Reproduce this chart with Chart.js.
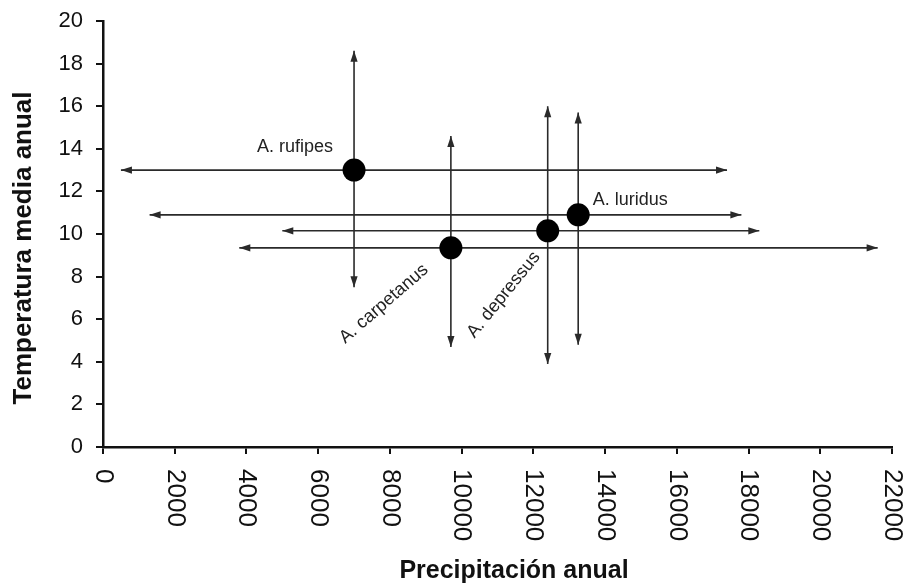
<!DOCTYPE html>
<html>
<head>
<meta charset="utf-8">
<script src="https://cdn.jsdelivr.net/npm/chart.js@4.4.1/dist/chart.umd.min.js"></script>
<style>
  html, body { margin: 0; padding: 0; background: #fff; }
  #wrap { width: 914px; height: 587px; position: relative; }
</style>
</head>
<body>
<div id="wrap"><canvas id="chart"></canvas></div>
<script>
const species = ["A. rufipes", "A. luridus", "A. depressus", "A. carpetanus"];
const precip = [7000, 13250, 12400, 9700];
const temp = [13.0, 10.9, 10.15, 9.35];
const precipMin = [500, 1300, 5000, 3800];
const precipMax = [17400, 17800, 18300, 21600];
const tempMin = [7.5, 4.8, 3.9, 4.7];
const tempMax = [18.6, 15.7, 16.0, 14.6];
const xTicks = [0, 2000, 4000, 6000, 8000, 10000, 12000, 14000, 16000, 18000, 20000, 22000];

const ink = "#111";
const lineInk = "#2a2a2a";

// label placement relative to each point (pixels), and rotation in degrees
const labelStyle = [
  { dx: -59, dy: -23, rot: 0 },
  { dx: 52, dy: -15, rot: 0 },
  { dx: -44, dy: 64, rot: -51 },
  { dx: -67, dy: 56, rot: -41 },
];

const datasets = [];
species.forEach((name, i) => {
  datasets.push({
    data: [{ x: precipMin[i], y: temp[i] }, { x: precipMax[i], y: temp[i] }],
    borderColor: lineInk, borderWidth: 1.6, pointRadius: 0, showLine: true, order: 2,
  });
  datasets.push({
    data: [{ x: precip[i], y: tempMin[i] }, { x: precip[i], y: tempMax[i] }],
    borderColor: lineInk, borderWidth: 1.6, pointRadius: 0, showLine: true, order: 2,
  });
});
datasets.push({
  data: species.map((s, i) => ({ x: precip[i], y: temp[i] })),
  backgroundColor: "#000", borderColor: "#000", pointRadius: 11.5, borderWidth: 0, order: 1,
});

function arrowHead(ctx, x, y, dirX, dirY) {
  const len = 11, half = 3.6;
  const px = -dirY, py = dirX;
  ctx.beginPath();
  ctx.moveTo(x, y);
  ctx.lineTo(x - dirX * len + px * half, y - dirY * len + py * half);
  ctx.lineTo(x - dirX * len - px * half, y - dirY * len - py * half);
  ctx.closePath();
  ctx.fill();
}

const extras = {
  id: "extras",
  afterDatasetsDraw(chart) {
    const { ctx, scales: { x, y } } = chart;
    ctx.save();
    ctx.fillStyle = lineInk;
    species.forEach((name, i) => {
      const py = y.getPixelForValue(temp[i]);
      const px = x.getPixelForValue(precip[i]);
      arrowHead(ctx, x.getPixelForValue(precipMin[i]), py, -1, 0);
      arrowHead(ctx, x.getPixelForValue(precipMax[i]), py, 1, 0);
      arrowHead(ctx, px, y.getPixelForValue(tempMax[i]), 0, -1);
      arrowHead(ctx, px, y.getPixelForValue(tempMin[i]), 0, 1);
    });
    // species labels
    ctx.fillStyle = "#222";
    ctx.font = "18px 'Liberation Sans', Arial, sans-serif";
    ctx.textAlign = "center";
    ctx.textBaseline = "middle";
    species.forEach((name, i) => {
      const st = labelStyle[i];
      ctx.save();
      ctx.translate(x.getPixelForValue(precip[i]) + st.dx, y.getPixelForValue(temp[i]) + st.dy);
      ctx.rotate(st.rot * Math.PI / 180);
      ctx.fillText(name, 0, 0);
      ctx.restore();
    });
    // x tick labels, rotated clockwise
    ctx.fillStyle = ink;
    ctx.font = "26px 'Liberation Sans', Arial, sans-serif";
    ctx.textAlign = "left";
    xTicks.forEach(v => {
      ctx.save();
      ctx.translate(x.getPixelForValue(v), y.bottom + 22);
      ctx.rotate(Math.PI / 2);
      ctx.fillText(String(v), 0, 0);
      ctx.restore();
    });
    // axis titles
    ctx.font = "bold 25px 'Liberation Sans', Arial, sans-serif";
    ctx.textAlign = "center";
    ctx.fillText("Precipitación anual", 514, 571);
    ctx.font = "bold 26px 'Liberation Sans', Arial, sans-serif";
    ctx.save();
    ctx.translate(24, 248);
    ctx.rotate(-Math.PI / 2);
    ctx.fillText("Temperatura media anual", 0, 0);
    ctx.restore();
    ctx.restore();
  },
};

new Chart(document.getElementById("chart").getContext("2d"), {
  type: "scatter",
  data: { datasets },
  options: {
    responsive: true,
    maintainAspectRatio: false,
    animation: false,
    layout: { padding: { top: 21, right: 22, left: 0, bottom: 0 } },
    plugins: { legend: { display: false }, tooltip: { enabled: false } },
    scales: {
      x: {
        type: "linear", min: 0, max: 22000,
        afterBuildTicks: (scale) => { scale.ticks = xTicks.map(v => ({ value: v })); },
        ticks: { display: false },
        grid: { drawOnChartArea: false, drawTicks: true, tickLength: 7, color: ink, lineWidth: 2 },
        border: { color: ink, width: 2.5 },
        afterFit: (scale) => { scale.height = 140; scale.paddingLeft = 0; scale.paddingRight = 0; },
      },
      y: {
        min: 0, max: 20,
        ticks: { stepSize: 2, color: ink, padding: 13, font: { size: 22, family: "'Liberation Sans', Arial, sans-serif" } },
        grid: { drawOnChartArea: false, drawTicks: true, tickLength: 7, color: ink, lineWidth: 2 },
        border: { color: ink, width: 2.5 },
        afterFit: (scale) => { scale.width = 103; scale.paddingTop = 0; scale.paddingBottom = 0; },
      },
    },
  },
  plugins: [extras],
});
</script>
</body>
</html>
